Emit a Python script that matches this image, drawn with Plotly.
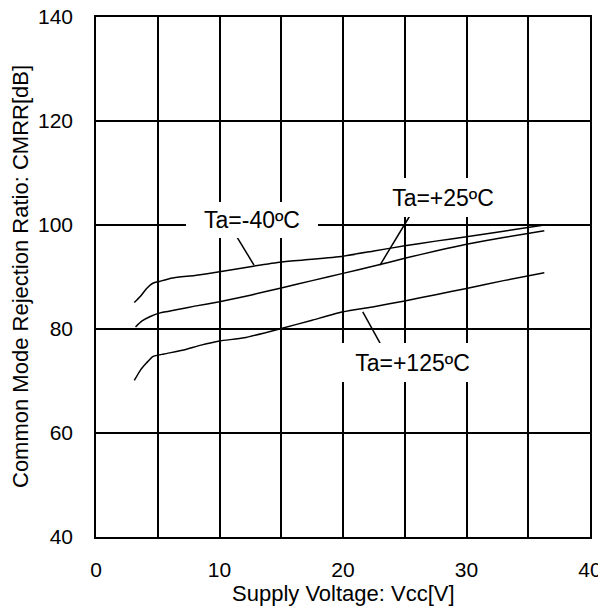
import plotly.graph_objects as go

# Curve data (Supply voltage [V], CMRR [dB])
vcc_m40 = [3.1, 3.6, 4.1, 4.6, 5.2, 6.2, 8.0, 10.0, 12.0, 15.0, 17.5, 20.0, 22.5, 25.0, 27.5, 30.0, 33.0, 36.3]
cmrr_m40 = [85.1, 86.3, 87.8, 88.8, 89.2, 89.8, 90.3, 91.0, 91.8, 92.9, 93.4, 94.0, 95.0, 96.0, 96.9, 97.75, 98.8, 100.0]

vcc_25 = [3.2, 3.7, 4.4, 5.2, 6.5, 8.0, 10.0, 12.5, 15.0, 17.5, 20.0, 22.5, 25.0, 27.5, 30.0, 33.0, 36.3]
cmrr_25 = [80.4, 81.5, 82.4, 83.1, 83.7, 84.4, 85.25, 86.5, 87.9, 89.3, 90.7, 92.1, 93.6, 95.0, 96.3, 97.6, 98.9]

vcc_125 = [3.1, 3.6, 4.1, 4.6, 5.5, 7.0, 8.5, 10.0, 12.0, 15.0, 17.5, 20.0, 22.5, 25.0, 27.5, 30.0, 33.0, 36.3]
cmrr_125 = [70.1, 72.1, 73.5, 74.7, 75.2, 75.9, 76.9, 77.7, 78.3, 80.1, 81.7, 83.3, 84.3, 85.4, 86.6, 87.8, 89.3, 90.8]

labels = ["Ta=-40ºC", "Ta=+25ºC", "Ta=+125ºC"]

x_ticks = [0, 10, 20, 30, 40]
y_ticks = [40, 60, 80, 100, 120, 140]

FONT = "Liberation Sans, Arial, sans-serif"

fig = go.Figure()
for xs, ys in [(vcc_m40, cmrr_m40), (vcc_25, cmrr_25), (vcc_125, cmrr_125)]:
    fig.add_trace(go.Scatter(x=xs, y=ys, mode="lines",
                             line=dict(color="black", width=1.5, shape="spline", smoothing=0.5),
                             showlegend=False, hoverinfo="skip"))

# label boxes (white background breaking the grid)
label_pos = [(12.6, 101.0, 132, 36), (28.1, 105.3, 130, 39), (25.6, 73.55, 145, 39)]
for txt, (lx, ly, w, h) in zip(labels, label_pos):
    fig.add_annotation(x=lx, y=ly, text=txt, showarrow=False, bgcolor="white",
                       width=w, height=h, borderpad=0, borderwidth=0,
                       font=dict(family=FONT, size=23, color="black"))

# leader lines
leaders = [((11.17, 98.65), (12.79, 92.3)),
           ((25.6, 102.5), (23.0, 92.3)),
           ((21.6, 83.3), (23.0, 77.3))]
for (x0, y0), (x1, y1) in leaders:
    fig.add_shape(type="line", x0=x0, y0=y0, x1=x1, y1=y1,
                  line=dict(color="black", width=1.5), layer="above")

# axis titles
fig.add_annotation(xref="paper", yref="paper", x=(343 - 96) / 494, y=-(593 - 537) / 520,
                   text="Supply Voltage: Vcc[V]", showarrow=False,
                   xanchor="center", yanchor="middle",
                   font=dict(family=FONT, size=22, color="black"))
fig.add_annotation(xref="paper", yref="paper", x=-(96 - 20) / 494, y=0.5,
                   text="Common Mode Rejection Ratio: CMRR[dB]", showarrow=False,
                   textangle=-90, xanchor="center", yanchor="middle",
                   font=dict(family=FONT, size=22, color="black"))

fig.update_xaxes(range=[0, 40], tickvals=x_ticks, ticktext=[str(v) for v in x_ticks],
                 showgrid=True, gridcolor="black", gridwidth=1.5,
                 showline=True, linecolor="black", linewidth=1.5, mirror=True,
                 ticks="", zeroline=False, automargin=False, ticklabelstandoff=13,
                 ticklabeloverflow="allow",
                 tickfont=dict(family=FONT, size=21, color="black"),
                 minor=dict(tickvals=[5, 15, 25, 35], showgrid=True, gridcolor="black", gridwidth=1.5))
fig.update_yaxes(range=[40, 140], tickvals=y_ticks, ticktext=[str(v) for v in y_ticks],
                 showgrid=True, gridcolor="black", gridwidth=1.5,
                 showline=True, linecolor="black", linewidth=1.5, mirror=True,
                 ticks="", zeroline=False, automargin=False, ticklabelstandoff=17,
                 ticklabeloverflow="allow",
                 tickfont=dict(family=FONT, size=21, color="black"))

# the page body adds an 8px offset, so the figure is sized to fit inside the window
fig.update_layout(width=598, height=604, margin=dict(l=88, r=16, t=9, b=75),
                  plot_bgcolor="white", paper_bgcolor="white")

fig.write_html("out.html")
